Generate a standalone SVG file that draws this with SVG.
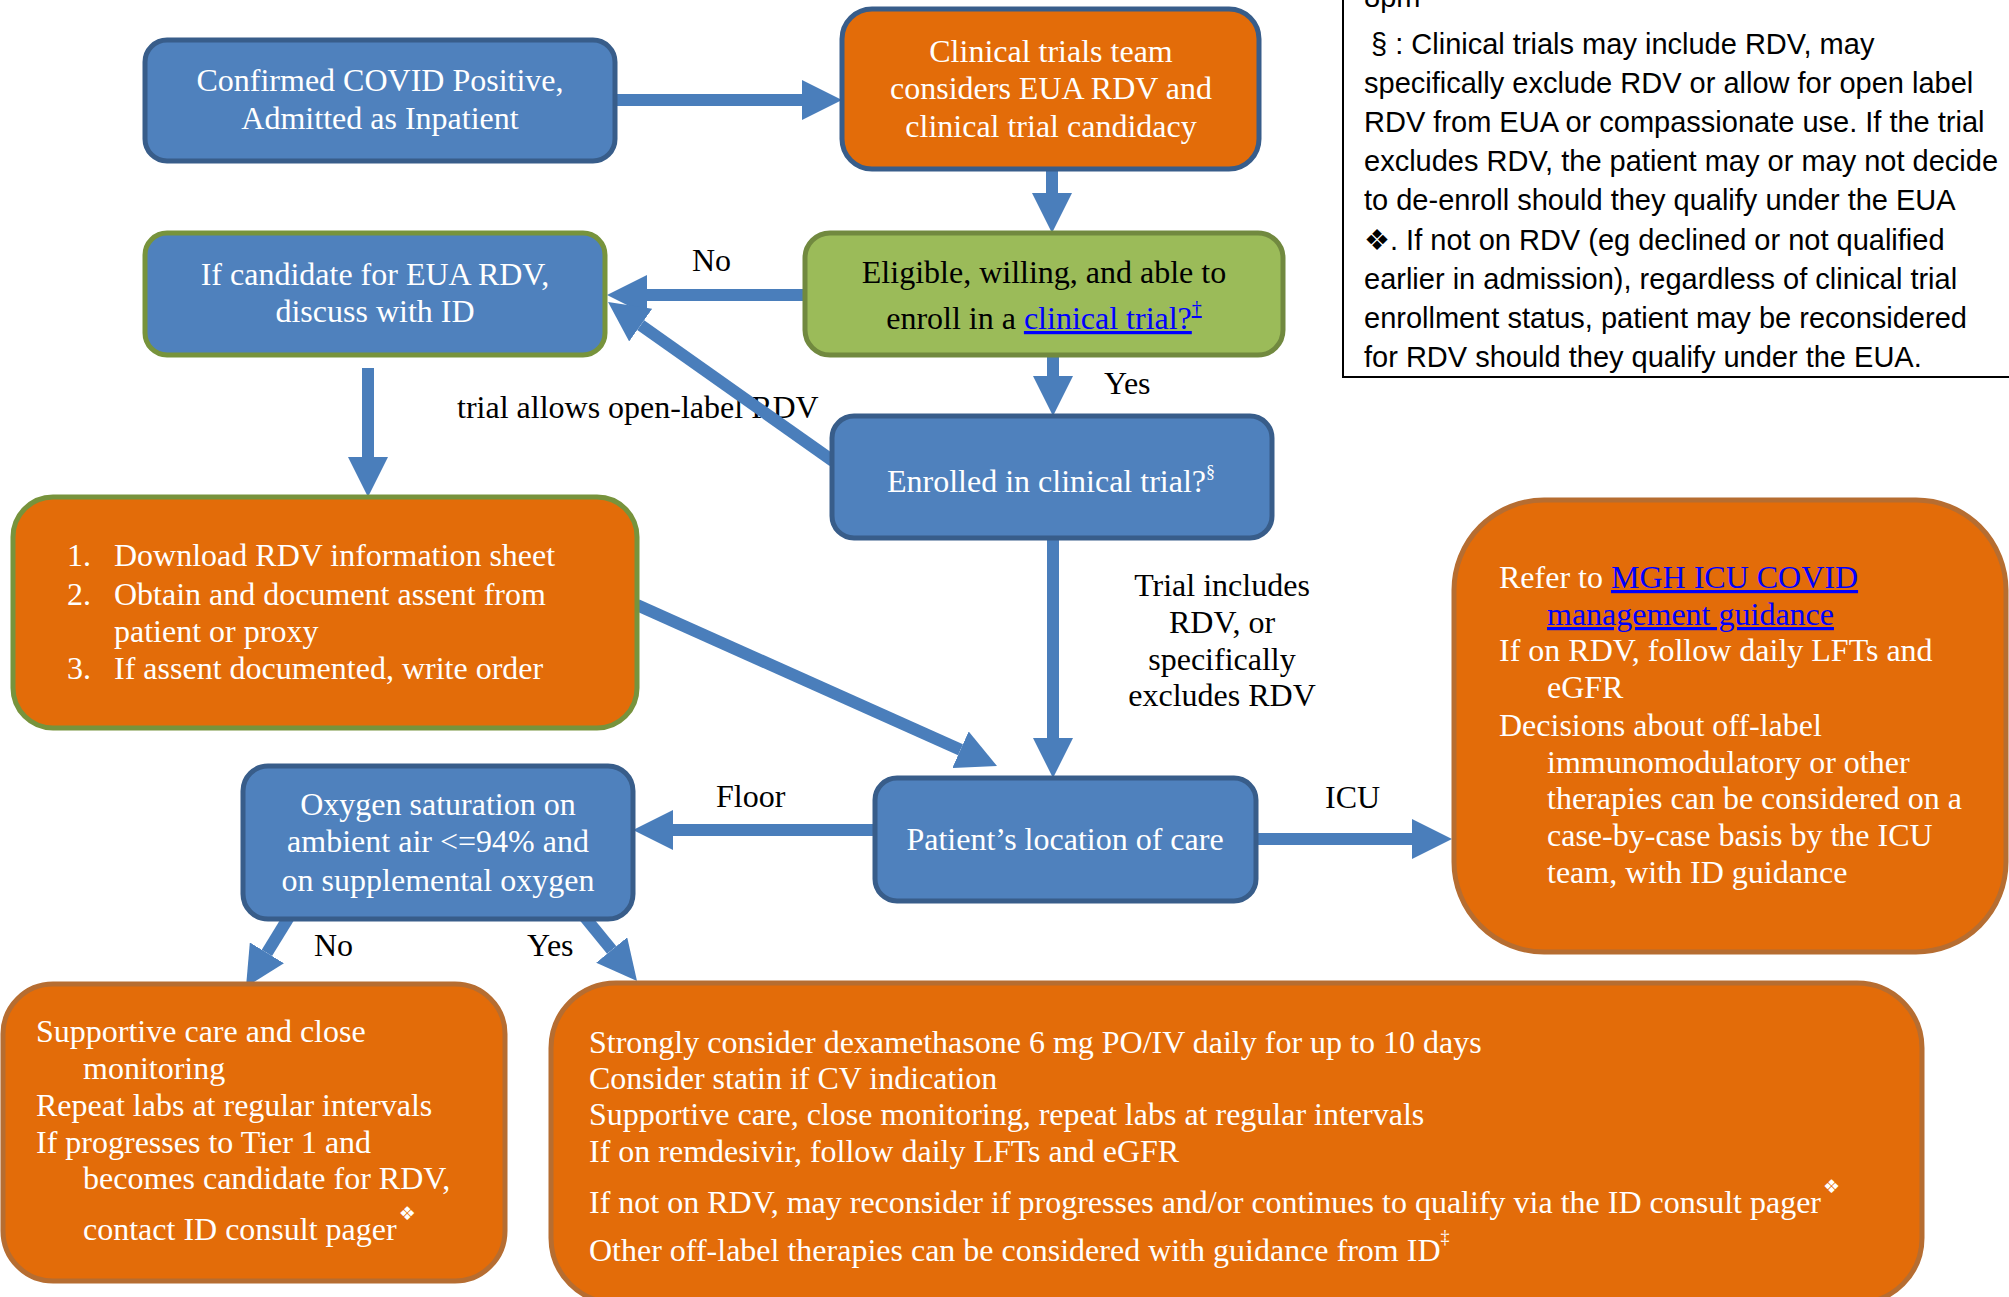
<svg xmlns="http://www.w3.org/2000/svg" width="2009" height="1297" viewBox="0 0 2009 1297">
<style>
.t{font-family:"Liberation Serif","Times New Roman",serif;font-size:32px;fill:#fff}
.k{font-family:"Liberation Serif","Times New Roman",serif;font-size:32px;fill:#000}
.m{text-anchor:middle}
.lnk{fill:#0000ff;text-decoration:underline}
.sym{font-family:"DejaVu Sans",sans-serif}
.blue{fill:#4f81bd;stroke:#385d8a;stroke-width:5}
.bg{fill:#4f81bd;stroke:#77933c;stroke-width:5}
.green{fill:#9bbb59;stroke:#71893f;stroke-width:5}
.orb{fill:#e36c09;stroke:#385d8a;stroke-width:5}
.org{fill:#e36c09;stroke:#77933c;stroke-width:5}
.orr{fill:#e36c09;stroke:#b66d31;stroke-width:5}
.c{stroke:#4a7ebb;stroke-width:12;fill:none}
.fn{font-family:"Liberation Sans",Arial,sans-serif;font-size:29px;fill:#000}
</style>
<defs>
<marker id="ah" markerUnits="userSpaceOnUse" markerWidth="40" markerHeight="40" refX="0" refY="20" orient="auto" viewBox="0 0 40 40">
<path d="M0,0 L40,20 L0,40 z" fill="#4a7ebb"/>
</marker>
<clipPath id="fc"><rect x="1340" y="0" width="669" height="373"/></clipPath>
</defs>
<rect width="2009" height="1297" fill="#fff"/>

<g id="footnote">
<g clip-path="url(#fc)">
<text class="fn" x="1364" y="7">8pm</text>
<text class="fn" x="1371" y="54">§ : Clinical trials may include RDV, may</text>
<text class="fn" x="1364" y="93">specifically exclude RDV or allow for open label</text>
<text class="fn" x="1364" y="132">RDV from EUA or compassionate use. If the trial</text>
<text class="fn" x="1364" y="171">excludes RDV, the patient may or may not decide</text>
<text class="fn" x="1364" y="210">to de-enroll should they qualify under the EUA</text>
<text class="fn" x="1364" y="250"><tspan class="sym">❖</tspan>. If not on RDV (eg declined or not qualified</text>
<text class="fn" x="1364" y="289">earlier in admission), regardless of clinical trial</text>
<text class="fn" x="1364" y="328">enrollment status, patient may be reconsidered</text>
<text class="fn" x="1364" y="367">for RDV should they qualify under the EUA.</text>
</g>
<path d="M1343,0 V377 H2009" fill="none" stroke="#000" stroke-width="2"/>
</g>

<g id="connector-labels">
<text class="k" x="692" y="271" font-size="30">No</text>
<text class="k" x="457" y="418">trial allows open-label RDV</text>
<text class="k" x="1104" y="394" font-size="30">Yes</text>
<text class="k m" x="1222" y="596">Trial includes</text>
<text class="k m" x="1222" y="633">RDV, or</text>
<text class="k m" x="1222" y="670">specifically</text>
<text class="k m" x="1222" y="706">excludes RDV</text>
<text class="k" x="716" y="807" font-size="36">Floor</text>
<text class="k" x="1325" y="808" font-size="36">ICU</text>
<text class="k" x="314" y="956" font-size="30">No</text>
<text class="k" x="527" y="956" font-size="30">Yes</text>
</g>

<g id="connectors">
<line class="c" x1="615" y1="100" x2="802" y2="100" marker-end="url(#ah)"/>
<line class="c" x1="1052" y1="169" x2="1052" y2="193" marker-end="url(#ah)"/>
<line class="c" x1="805" y1="295" x2="647" y2="295" marker-end="url(#ah)"/>
<line class="c" x1="833" y1="461" x2="640.7" y2="325.1" marker-end="url(#ah)"/>
<line class="c" x1="1053" y1="355" x2="1053" y2="376" marker-end="url(#ah)"/>
<line class="c" x1="368" y1="368" x2="368" y2="457" marker-end="url(#ah)"/>
<line class="c" x1="637" y1="605" x2="960.5" y2="749.7" marker-end="url(#ah)"/>
<line class="c" x1="1053" y1="538" x2="1053" y2="738" marker-end="url(#ah)"/>
<line class="c" x1="875" y1="830" x2="673" y2="830" marker-end="url(#ah)"/>
<line class="c" x1="1256" y1="839" x2="1412" y2="839" marker-end="url(#ah)"/>
<line class="c" x1="292" y1="912" x2="266.9" y2="952.9" marker-end="url(#ah)"/>
<line class="c" x1="579" y1="910" x2="611.7" y2="950" marker-end="url(#ah)"/>
</g>

<g id="node-confirmed">
<rect class="blue" x="145" y="40" width="470" height="121" rx="22"/>
<text class="t m" x="380" y="91">Confirmed COVID Positive,</text>
<text class="t m" x="380" y="129">Admitted as Inpatient</text>
</g>

<g id="node-trials-team">
<rect class="orb" x="842" y="9" width="417" height="160" rx="30"/>
<text class="t m" x="1051" y="62">Clinical trials team</text>
<text class="t m" x="1051" y="99">considers EUA RDV and</text>
<text class="t m" x="1051" y="137">clinical trial candidacy</text>
</g>

<g id="node-eligible">
<rect class="green" x="805" y="233" width="478" height="122" rx="25"/>
<text class="k m" x="1044" y="283" font-size="35">Eligible, willing, and able to</text>
<text class="k m" x="1044" y="329" font-size="35">enroll in a <tspan class="lnk">clinical trial?<tspan font-size="20" dy="-14">†</tspan></tspan></text>
</g>

<g id="node-candidate">
<rect class="bg" x="145" y="233" width="460" height="122" rx="22"/>
<text class="t m" x="375" y="285">If candidate for EUA RDV,</text>
<text class="t m" x="375" y="322">discuss with ID</text>
</g>

<g id="node-enrolled">
<rect class="blue" x="832" y="416" width="440" height="122" rx="22"/>
<text class="t" x="887" y="492">Enrolled in clinical trial?<tspan font-size="18" dy="-14">§</tspan></text>
</g>

<g id="node-download">
<rect class="org" x="13" y="497" width="624" height="231" rx="40"/>
<text class="t" x="67" y="566">1.</text>
<text class="t" x="114" y="566">Download RDV information sheet</text>
<text class="t" x="67" y="605">2.</text>
<text class="t" x="114" y="605">Obtain and document assent from</text>
<text class="t" x="114" y="642">patient or proxy</text>
<text class="t" x="67" y="679">3.</text>
<text class="t" x="114" y="679">If assent documented, write order</text>
</g>

<g id="node-location">
<rect class="blue" x="875" y="778" width="381" height="123" rx="22"/>
<text class="t m" x="1065" y="850">Patient’s location of care</text>
</g>

<g id="node-oxygen">
<rect class="blue" x="243" y="766" width="390" height="153" rx="25"/>
<text class="t m" x="438" y="815">Oxygen saturation on</text>
<text class="t m" x="438" y="852">ambient air &lt;=94% and</text>
<text class="t m" x="438" y="891">on supplemental oxygen</text>
</g>

<g id="node-icu">
<rect class="orr" x="1454" y="500" width="552" height="452" rx="90"/>
<text class="t" x="1499" y="588">Refer to <tspan class="lnk">MGH ICU COVID</tspan></text>
<text class="t lnk" x="1547" y="625">management guidance</text>
<text class="t" x="1499" y="661">If on RDV, follow daily LFTs and</text>
<text class="t" x="1547" y="698">eGFR</text>
<text class="t" x="1499" y="736">Decisions about off-label</text>
<text class="t" x="1547" y="773">immunomodulatory or other</text>
<text class="t" x="1547" y="809">therapies can be considered on a</text>
<text class="t" x="1547" y="846">case-by-case basis by the ICU</text>
<text class="t" x="1547" y="883">team, with ID guidance</text>
</g>

<g id="node-no-branch">
<rect class="orr" x="3" y="984" width="502" height="297" rx="50"/>
<text class="t" x="36" y="1042">Supportive care and close</text>
<text class="t" x="83" y="1079">monitoring</text>
<text class="t" x="36" y="1116">Repeat labs at regular intervals</text>
<text class="t" x="36" y="1153">If progresses to Tier 1 and</text>
<text class="t" x="83" y="1189">becomes candidate for RDV,</text>
<text class="t" x="83" y="1240">contact ID consult pager<tspan class="sym" font-size="19" dx="2" dy="-20">❖</tspan></text>
</g>

<g id="node-yes-branch">
<rect class="orr" x="551" y="983" width="1371" height="320" rx="65"/>
<text class="t" x="589" y="1053">Strongly consider dexamethasone 6 mg PO/IV daily for up to 10 days</text>
<text class="t" x="589" y="1089">Consider statin if CV indication</text>
<text class="t" x="589" y="1125">Supportive care, close monitoring, repeat labs at regular intervals</text>
<text class="t" x="589" y="1162">If on remdesivir, follow daily LFTs and eGFR</text>
<text class="t" x="589" y="1213">If not on RDV, may reconsider if progresses and/or continues to qualify via the ID consult pager<tspan class="sym" font-size="19" dx="2" dy="-20">❖</tspan></text>
<text class="t" x="589" y="1261">Other off-label therapies can be considered with guidance from ID<tspan font-size="18" dy="-18">‡</tspan></text>
</g>
</svg>
